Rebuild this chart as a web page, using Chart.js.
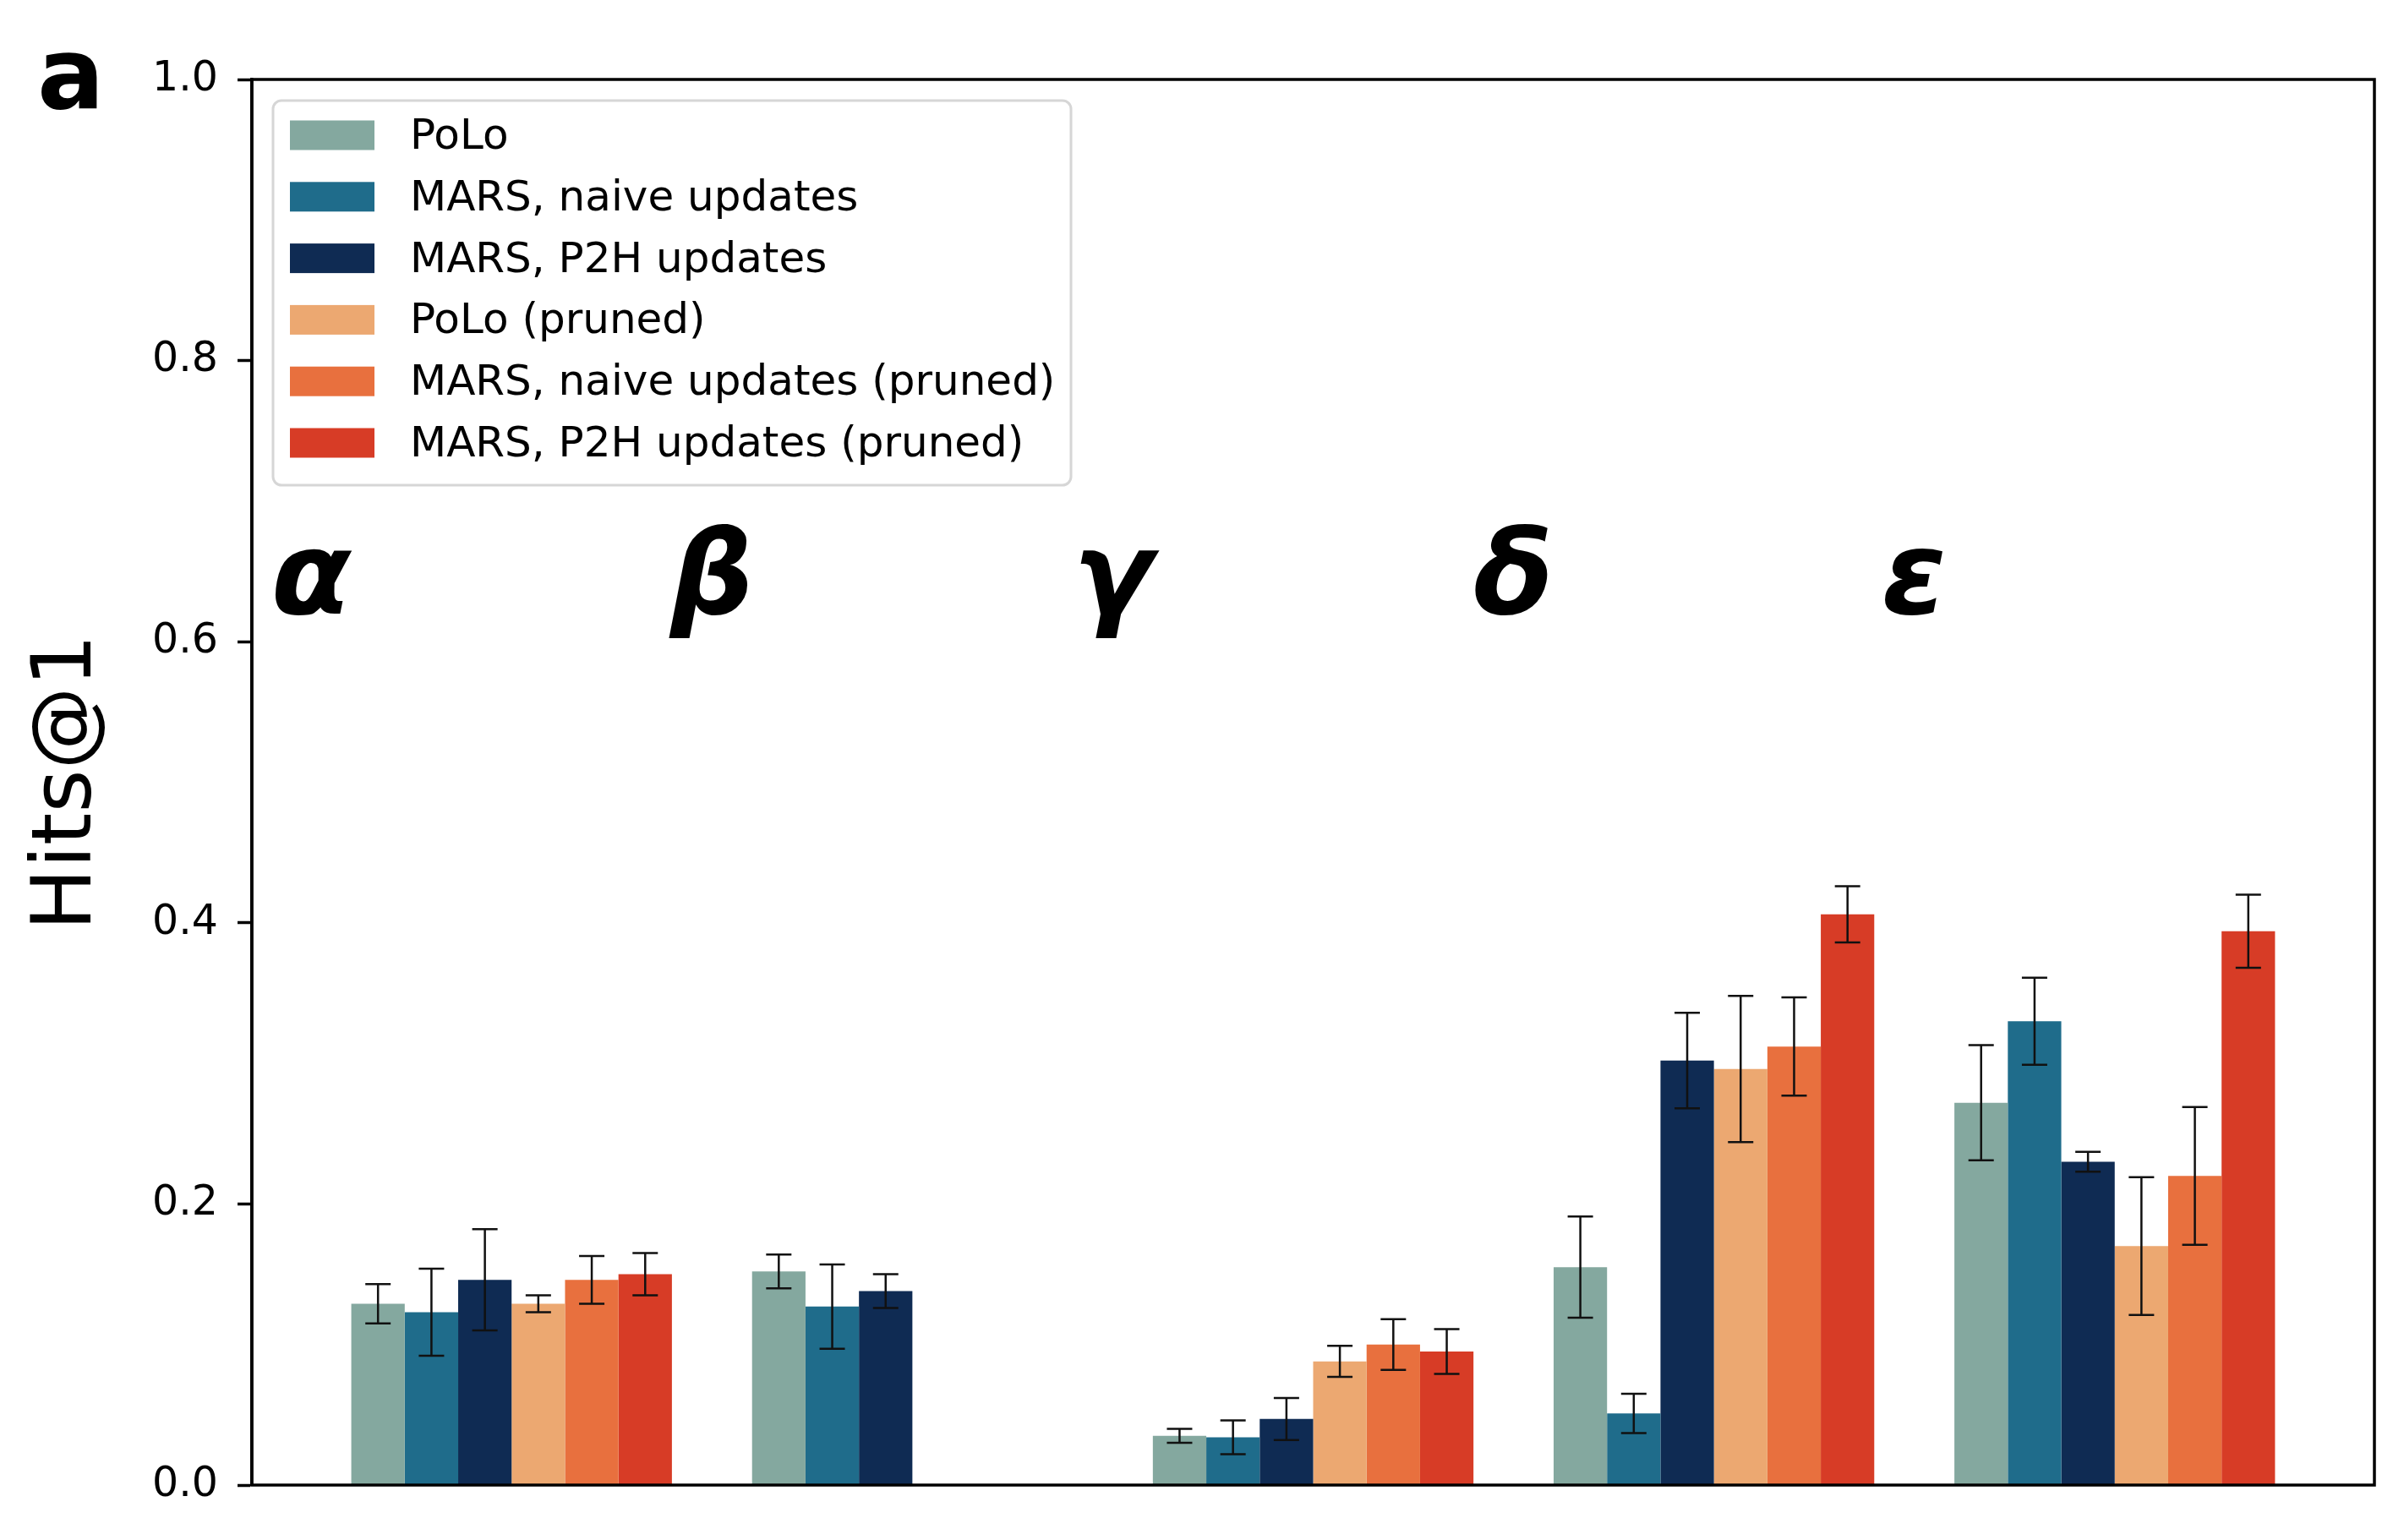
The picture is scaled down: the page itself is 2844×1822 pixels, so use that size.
<!DOCTYPE html>
<html>
<head>
<meta charset="utf-8">
<script src="https://cdn.jsdelivr.net/npm/chart.js@4.4.1/dist/chart.umd.min.js"></script>
<style>
  html, body { margin: 0; padding: 0; background: #fff; }
  canvas { display: block; }
</style>
</head>
<body>
<canvas id="hitsChart" width="2844" height="1822"></canvas>
<script>
// categories and values
const categories = ["α", "β", "γ", "δ", "ε"];
const tickValues = [0, 0.2, 0.4, 0.6, 0.8, 1.0];

const polo = [0.129, 0.152, 0.035, 0.155, 0.272];
const poloErr = [0.014, 0.012, 0.005, 0.036, 0.041];
const marsNaive = [0.123, 0.127, 0.034, 0.051, 0.330];
const marsNaiveErr = [0.031, 0.030, 0.012, 0.014, 0.031];
const marsP2H = [0.146, 0.138, 0.047, 0.302, 0.230];
const marsP2HErr = [0.036, 0.012, 0.015, 0.034, 0.007];
const poloPruned = [0.129, null, 0.088, 0.296, 0.170];
const poloPrunedErr = [0.006, null, 0.011, 0.052, 0.049];
const naivePruned = [0.146, null, 0.100, 0.312, 0.220];
const naivePrunedErr = [0.017, null, 0.018, 0.035, 0.049];
const p2hPruned = [0.150, null, 0.095, 0.406, 0.394];
const p2hPrunedErr = [0.015, null, 0.016, 0.020, 0.026];

const seriesLabels = [
  "PoLo",
  "MARS, naive updates",
  "MARS, P2H updates",
  "PoLo (pruned)",
  "MARS, naive updates (pruned)",
  "MARS, P2H updates (pruned)"
];
const seriesValues = [polo, marsNaive, marsP2H, poloPruned, naivePruned, p2hPruned];
const seriesErrors = [poloErr, marsNaiveErr, marsP2HErr, poloPrunedErr, naivePrunedErr, p2hPrunedErr];
const seriesColors = ["#84a89f", "#1f6c8b", "#0f2b53", "#eca871", "#e8703e", "#d73c26"];

const FONT = "'DejaVu Sans', sans-serif";

const datasets = seriesValues.map((vals, i) => ({
  label: seriesLabels[i],
  data: vals.map((v, j) => ({ x: j, y: v })),
  errors: seriesErrors[i],
  backgroundColor: seriesColors[i],
  borderWidth: 0,
  categoryPercentage: 0.8,
  barPercentage: 1.0
}));

// error bars, greek group labels, spines, legend, panel letter
const extras = {
  id: "extras",
  afterDatasetsDraw(chart) {
    const ctx = chart.ctx;
    const y = chart.scales.y;
    const x = chart.scales.x;
    const area = chart.chartArea;

    ctx.save();
    ctx.strokeStyle = "#111";
    ctx.lineWidth = 2.5;
    chart.data.datasets.forEach((ds, i) => {
      const meta = chart.getDatasetMeta(i);
      meta.data.forEach((bar, j) => {
        const v = ds.data[j].y;
        const e = ds.errors[j];
        if (v == null || e == null) return;
        const top = y.getPixelForValue(v + e);
        const bot = y.getPixelForValue(v - e);
        ctx.beginPath();
        ctx.moveTo(bar.x, top);
        ctx.lineTo(bar.x, bot);
        ctx.moveTo(bar.x - 15, top);
        ctx.lineTo(bar.x + 15, top);
        ctx.moveTo(bar.x - 15, bot);
        ctx.lineTo(bar.x + 15, bot);
        ctx.stroke();
      });
    });
    ctx.restore();

    // greek labels over each group
    ctx.save();
    ctx.fillStyle = "#000";
    ctx.font = "italic bold 138px " + FONT;
    ctx.textAlign = "center";
    ctx.textBaseline = "alphabetic";
    categories.forEach((c, i) => {
      ctx.fillText(c, x.getPixelForValue(i - 0.5), y.getPixelForValue(0.62));
    });
    ctx.restore();

    // spines
    ctx.save();
    ctx.strokeStyle = "#000";
    ctx.lineWidth = 3.5;
    ctx.strokeRect(area.left, area.top, area.right - area.left, area.bottom - area.top);
    ctx.restore();

    // legend
    ctx.save();
    const lx = 323, ly = 119, lw = 944, lh = 455;
    ctx.fillStyle = "rgba(255,255,255,0.8)";
    ctx.strokeStyle = "#d6d6d6";
    ctx.lineWidth = 3;
    ctx.beginPath();
    ctx.roundRect(lx, ly, lw, lh, 10);
    ctx.fill();
    ctx.stroke();
    ctx.font = "50px " + FONT;
    ctx.textBaseline = "middle";
    ctx.textAlign = "left";
    chart.data.datasets.forEach((ds, i) => {
      const cy = 160 + i * 72.8;
      ctx.fillStyle = ds.backgroundColor;
      ctx.fillRect(343, cy - 17.5, 100, 35);
      ctx.fillStyle = "#000";
      ctx.fillText(ds.label, 485, cy + 3);
    });
    ctx.restore();

    // panel letter
    ctx.save();
    ctx.fillStyle = "#000";
    ctx.font = "bold 118px " + FONT;
    ctx.textAlign = "left";
    ctx.textBaseline = "alphabetic";
    ctx.fillText("a", 44, 128);
    ctx.restore();
  }
};

const ctx = document.getElementById("hitsChart").getContext("2d");
const chart = new Chart(ctx, {
  type: "bar",
  data: { datasets: datasets },
  plugins: [extras],
  options: {
    responsive: false,
    animation: false,
    devicePixelRatio: 1,
    layout: { padding: { top: 94, right: 35, bottom: 65, left: 0 } },
    plugins: {
      legend: { display: false },
      tooltip: { enabled: false }
    },
    scales: {
      x: {
        type: "linear",
        min: -0.648,
        max: 4.648,
        display: false,
        offset: false,
        afterBuildTicks: s => { s.ticks = categories.map((c, i) => ({ value: i })); }
      },
      y: {
        min: 0,
        max: 1,
        afterBuildTicks: s => { s.ticks = tickValues.map(v => ({ value: v })); },
        ticks: {
          callback: v => v.toFixed(1),
          font: { family: FONT, size: 49 },
          color: "#000",
          padding: 23
        },
        grid: {
          drawOnChartArea: false,
          drawTicks: true,
          tickLength: 17,
          tickWidth: 3.5,
          tickColor: "#000"
        },
        border: { display: true, color: "#000", width: 3.5 },
        title: {
          display: true,
          text: "Hits@1",
          color: "#000",
          font: { family: FONT, size: 98 },
          padding: { top: 23, bottom: 0 }
        },
        afterFit: s => { s.width = 298; }
      }
    }
  }
});
</script>
</body>
</html>
